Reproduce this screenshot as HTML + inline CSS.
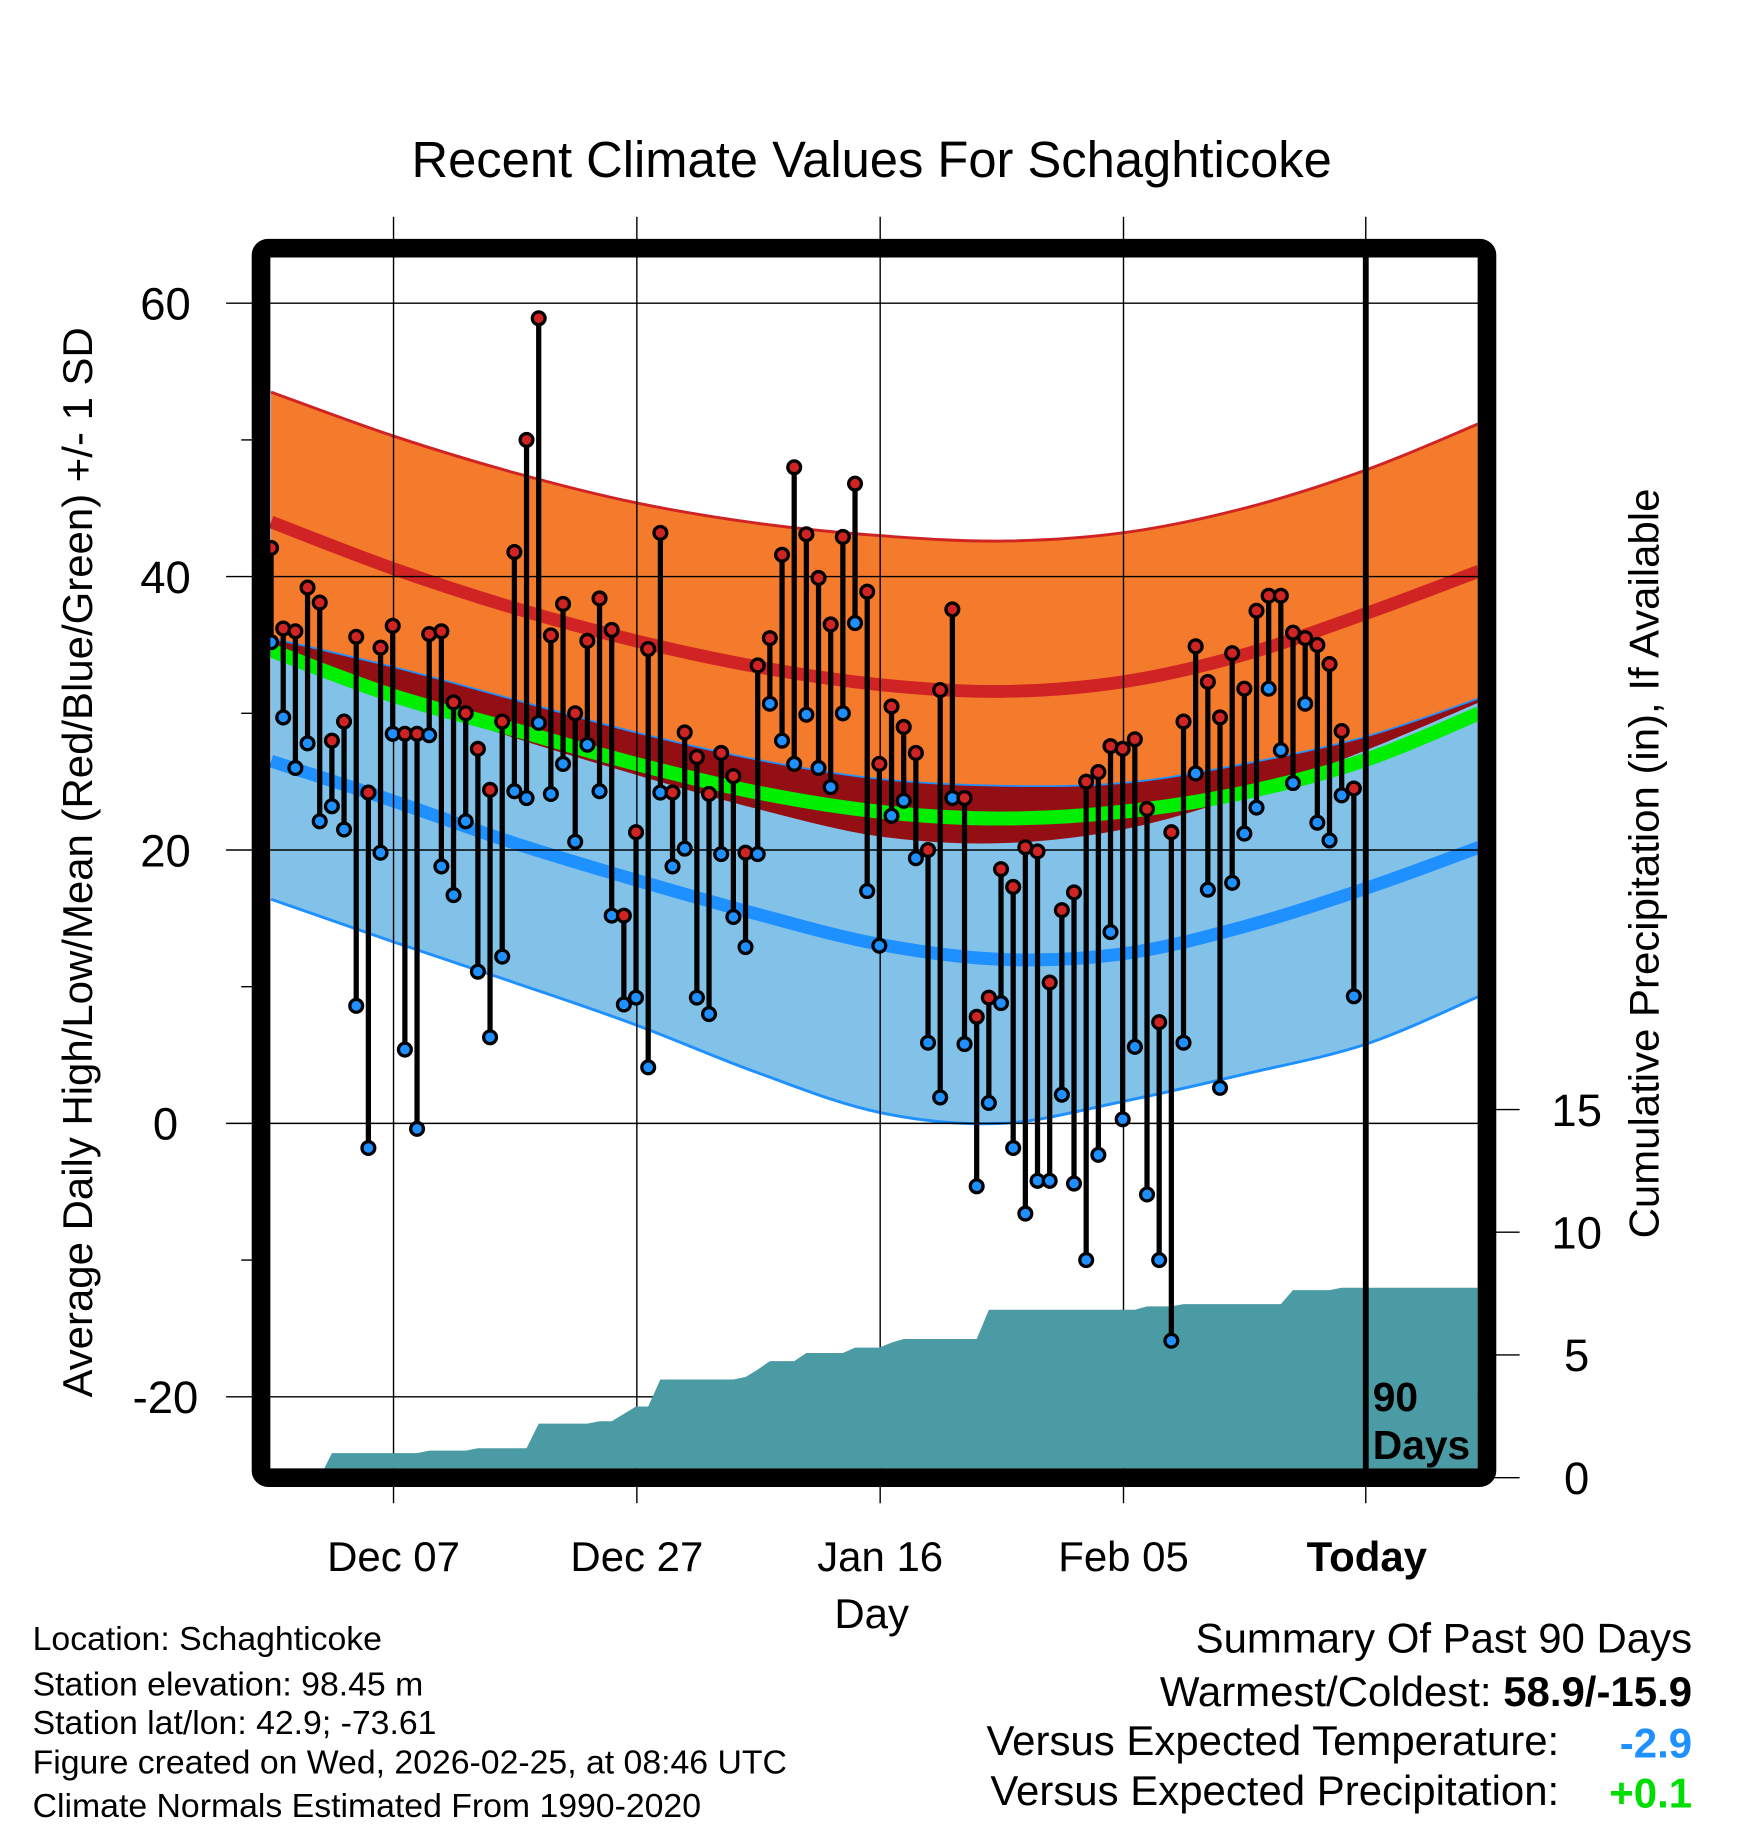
<!DOCTYPE html>
<html><head><meta charset="utf-8"><style>
html,body{margin:0;padding:0;background:#fff;}
svg{display:block;font-family:"Liberation Sans",Arial,sans-serif;}
</style></head><body>
<svg id="chart" width="1748" height="1828" viewBox="0 0 1500 1568.65" xmlns="http://www.w3.org/2000/svg">
<defs><clipPath id="plotclip"><rect x="232" y="220" width="1036" height="1040"/></clipPath></defs>
<text x="748" y="152" font-size="43.5" text-anchor="middle">Recent Climate Values For Schaghticoke</text>
<g id="bands" clip-path="url(#plotclip)"></g>
<g id="grid"></g>
<g id="precip" clip-path="url(#plotclip)"></g>
<g id="marks"></g>
<line x1="1172" y1="186" x2="1172" y2="1290" stroke="#000" stroke-width="1.2"/>
<line x1="1172" y1="213" x2="1172" y2="1262" stroke="#000" stroke-width="5"/>
<text x="1178" y="1211" font-size="35" font-weight="bold">90</text>
<text x="1178" y="1252" font-size="35" font-weight="bold">Days</text>
<rect x="224" y="213" width="1052" height="1055" fill="none" stroke="#000" stroke-width="16" rx="6"/>
<g id="axes"></g>
<text transform="translate(79,740) rotate(-90)" font-size="36" text-anchor="middle">Average Daily High/Low/Mean (Red/Blue/Green) +/- 1 SD</text>
<text transform="translate(1423,741) rotate(-90)" font-size="36" text-anchor="middle">Cumulative Precipitation (in), If Available</text>
<text x="748" y="1397" font-size="36" text-anchor="middle">Day</text>
<g font-size="29">
<text x="28" y="1416">Location: Schaghticoke</text>
<text x="28" y="1455">Station elevation: 98.45 m</text>
<text x="28" y="1488">Station lat/lon: 42.9; -73.61</text>
<text x="28" y="1522">Figure created on Wed, 2026-02-25, at 08:46 UTC</text>
<text x="28" y="1559">Climate Normals Estimated From 1990-2020</text>
</g>
<g font-size="36">
<text x="1452" y="1418" text-anchor="end">Summary Of Past 90 Days</text>
<text x="1452" y="1464" text-anchor="end">Warmest/Coldest: <tspan font-weight="bold">58.9/-15.9</tspan></text>
<text x="1338" y="1506" text-anchor="end">Versus Expected Temperature:</text>
<text x="1452" y="1508" text-anchor="end" font-weight="bold" fill="#1e90ff">-2.9</text>
<text x="1338" y="1549" text-anchor="end">Versus Expected Precipitation:</text>
<text x="1452" y="1551" text-anchor="end" font-weight="bold" fill="#00dd00">+0.1</text>
</g>
</svg>
<script>
const highs=[42.1,36.2,36.0,39.2,38.1,28.0,29.4,35.6,24.2,34.8,36.4,28.5,28.5,35.8,36.0,30.8,30.0,27.4,24.4,29.4,41.8,50.0,58.9,35.7,38.0,30.0,35.3,38.4,36.1,15.2,21.3,34.7,43.2,24.2,28.6,26.8,24.1,27.1,25.4,19.8,33.5,35.5,41.6,48.0,43.1,39.9,36.5,42.9,46.8,38.9,26.3,30.5,29.0,27.1,20.0,31.7,37.6,23.8,7.8,9.2,18.6,17.3,20.2,19.9,10.3,15.6,16.9,25.0,25.7,27.6,27.4,28.1,23.0,7.4,21.3,29.4,34.9,32.3,29.7,34.4,31.8,37.5,38.6,38.6,35.9,35.5,35.0,33.6,28.7,24.5];
const lows=[35.2,29.7,26.0,27.8,22.1,23.2,21.5,8.6,-1.8,19.8,28.5,5.4,-0.4,28.4,18.8,16.7,22.1,11.1,6.3,12.2,24.3,23.8,29.3,24.1,26.3,20.6,27.7,24.3,15.2,8.7,9.2,4.1,24.2,18.8,20.1,9.2,8.0,19.7,15.1,12.9,19.7,30.7,28.0,26.3,29.9,26.0,24.6,30.0,36.6,17.0,13.0,22.5,23.6,19.4,5.9,1.9,23.8,5.8,-4.6,1.5,8.8,-1.8,-6.6,-4.2,-4.2,2.1,-4.4,-10.0,-2.3,14.0,0.3,5.6,-5.2,-10.0,-15.9,5.9,25.6,17.1,2.6,17.6,21.2,23.1,31.8,27.3,24.9,30.7,22.0,20.7,24.0,9.3];
const precip=[0,0,0,0,0,1.0,1.0,1.0,1.0,1.0,1.0,1.0,1.0,1.1,1.1,1.1,1.1,1.2,1.2,1.2,1.2,1.2,2.2,2.2,2.2,2.2,2.2,2.3,2.3,2.6,2.9,2.9,4.0,4.0,4.0,4.0,4.0,4.0,4.0,4.1,4.4,4.75,4.75,4.75,5.08,5.08,5.08,5.08,5.3,5.3,5.3,5.5,5.65,5.65,5.65,5.65,5.65,5.65,5.65,6.84,6.84,6.84,6.84,6.84,6.84,6.84,6.84,6.84,6.84,6.84,6.84,6.84,6.98,6.98,6.98,7.07,7.07,7.07,7.07,7.07,7.07,7.07,7.07,7.07,7.64,7.64,7.64,7.64,7.74,7.74];
const normDays=[0,10,20,30,40,50,60,70,80,90,99.3];
const highPlusSD=[53.5,50.3,47.6,45.4,43.9,43.0,42.6,43.2,45.0,47.8,51.2];
const highMean=[44.0,40.6,37.7,35.3,33.4,32.1,31.6,32.3,34.3,37.3,40.4];
const highMinusSD=[35.0,31.2,28.2,25.5,23.0,21.0,20.5,21.5,24.0,27.3,30.8];
const meanTemp=[34.6,31.3,28.8,26.3,24.2,22.8,22.3,22.8,24.2,26.6,30.0];
const lowPlusSD=[35.5,33.4,31.0,28.6,26.6,25.2,24.7,24.9,26.3,28.3,31.1];
const lowMean=[26.5,23.6,20.5,17.8,15.3,13.1,12.0,12.4,14.4,17.2,20.2];
const lowMinusSD=[16.4,13.3,10.3,7.2,3.7,0.8,0.0,1.6,3.6,5.8,9.3];
const yTicks=[-20,0,20,40,60];
const yMinor=[-10,10,30,50];
const pTicks=[0,5,10,15];
const xTickDays=[10,30,50,70,90];
const xTickLabels=["Dec 07","Dec 27","Jan 16","Feb 05","Today"];

const NS="http://www.w3.org/2000/svg";
function xs(d){return 232.6+d*10.44;}
function ys(v){return 964-v*11.73;}
function yp(p){return 1268-p*21.06;}
function mk(tag,attrs,parent){const e=document.createElementNS(NS,tag);for(const k in attrs)e.setAttribute(k,attrs[k]);parent.appendChild(e);return e;}
function pts(arr){return normDays.map((d,i)=>[xs(d),ys(arr[i])]);}
function spline(p){let s="M"+p[0][0]+","+p[0][1];for(let i=0;i<p.length-1;i++){const p0=p[Math.max(0,i-1)],p1=p[i],p2=p[i+1],p3=p[Math.min(p.length-1,i+2)];const c1=[p1[0]+(p2[0]-p0[0])/6,p1[1]+(p2[1]-p0[1])/6],c2=[p2[0]-(p3[0]-p1[0])/6,p2[1]-(p3[1]-p1[1])/6];s+=" C"+c1[0]+","+c1[1]+" "+c2[0]+","+c2[1]+" "+p2[0]+","+p2[1];}return s;}
function splineRev(p){return spline(p.slice().reverse()).replace(/^M/," L");}
function band(a,b){return spline(pts(a))+splineRev(pts(b))+" Z";}
const bands=document.getElementById('bands');
let e;
e=mk('path',{d:band(highPlusSD,highMinusSD),fill:'#f47a2c'},bands);


e=mk('path',{d:band(lowPlusSD,lowMinusSD),fill:'#82c1e8'},bands);


e=mk('path',{d:band(lowPlusSD,highMinusSD),fill:'#930f14'},bands);


e=mk('path',{d:spline(pts(highPlusSD)),fill:'none',stroke:'#d02323','stroke-width':2.5},bands);


e=mk('path',{d:spline(pts(lowPlusSD)),fill:'none',stroke:'#1e90ff','stroke-width':1.5},bands);


e=mk('path',{d:spline(pts(lowMinusSD)),fill:'none',stroke:'#1e90ff','stroke-width':2.5},bands);


e=mk('path',{d:spline(pts(highMean)),fill:'none',stroke:'#d02323','stroke-width':11},bands);


e=mk('path',{d:spline(pts(lowMean)),fill:'none',stroke:'#1e90ff','stroke-width':11},bands);


e=mk('path',{d:spline(pts(meanTemp)),fill:'none',stroke:'#00ee00','stroke-width':12},bands);



const grid=document.getElementById('grid');
yTicks.forEach(v=>{const l=mk('line',{x1:194,x2:1276,y1:ys(v),y2:ys(v),stroke:'#000','stroke-width':1.2},grid);

});
xTickDays.forEach((d,i)=>{if(i===4)return;const l=mk('line',{x1:xs(d)+0.7,x2:xs(d)+0.7,y1:186,y2:1290,stroke:'#000','stroke-width':1.2},grid);

});

const pg=document.getElementById('precip');
let pd="M232,1268 L"+xs(0)+","+yp(precip[0]);
precip.forEach((p,i)=>{pd+=" L"+xs(i)+","+yp(p);});
pd+=" L1270,"+yp(precip[precip.length-1])+" L1270,1268 Z";
e=mk('path',{d:pd,fill:'#4a9ba4'},pg);



const mg=document.getElementById('marks');
highs.forEach((h,i)=>{const x=xs(i);
const s=mk('line',{x1:x,x2:x,y1:ys(h),y2:ys(lows[i]),stroke:'#000','stroke-width':4.5},mg);

});
highs.forEach((h,i)=>{const x=xs(i);
const c1=mk('circle',{cx:x,cy:ys(h),r:5.5,fill:'#d02323',stroke:'#000','stroke-width':2.8},mg);


const c2=mk('circle',{cx:x,cy:ys(lows[i]),r:5.5,fill:'#1e90ff',stroke:'#000','stroke-width':2.8},mg);

});

const ax=document.getElementById('axes');
yTicks.forEach(v=>{const t=mk('text',{x:142,y:ys(v)+14,'font-size':39,'text-anchor':'middle'},ax);t.textContent=v;

});
yMinor.forEach(v=>{const l=mk('line',{x1:207,x2:220,y1:ys(v),y2:ys(v),stroke:'#000','stroke-width':1.2},ax);

});
pTicks.forEach(p=>{const l=mk('line',{x1:1276,x2:1304,y1:yp(p),y2:yp(p),stroke:'#000','stroke-width':1.2},ax);


const t=mk('text',{x:1353,y:yp(p)+14,'font-size':39,'text-anchor':'middle'},ax);t.textContent=p;

});
xTickDays.forEach((d,i)=>{const t=mk('text',{x:xs(d)+0.7,y:1348,'font-size':36,'text-anchor':'middle','font-weight':i===4?'bold':'normal'},ax);t.textContent=xTickLabels[i];

});
</script>
</body></html>
